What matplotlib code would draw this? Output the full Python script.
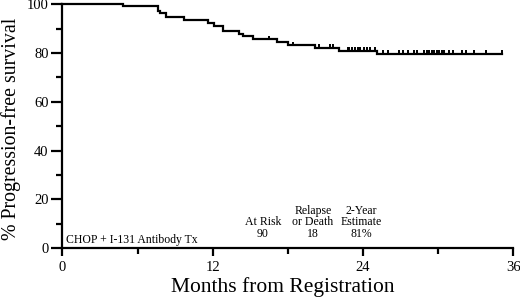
import numpy as np
import matplotlib
matplotlib.use("Agg")
import matplotlib.pyplot as plt

plt.rcParams['font.family'] = ['Liberation Serif', 'DejaVu Serif']

# step times (months) and survival level after each step (%)
step_months = [0, 4.8, 7.6, 7.8, 8.3, 9.7, 11.6, 12.1, 12.8, 14.1, 14.4,
               15.2, 17.1, 18.0, 20.2, 22.1, 25.1, 35.1]
step_pct = [100, 99.1, 97.3, 96.3, 94.7, 93.4, 92.3, 91.2, 89.0, 87.9, 86.8,
            85.6, 84.4, 83.2, 82.1, 81.0, 79.7, 79.7]
# censored observations (months)
censor_months = [16.5, 18.4, 20.5, 21.4, 21.6, 22.8, 22.9, 23.1, 23.4, 23.6,
                 23.8, 24.1, 24.3, 24.6, 25.0, 25.6, 26.0, 26.9, 27.2, 27.6,
                 28.1, 28.3, 28.9, 29.1, 29.3, 29.5, 29.7, 29.9, 30.1, 30.3,
                 30.5, 30.9, 31.2, 31.9, 32.2, 32.9, 33.8, 35.1]

xticks = [0, 12, 24, 36]
yticks = [0, 20, 40, 60, 80, 100]

fig = plt.figure(figsize=(5.2, 3.0), dpi=100)
ax = fig.add_axes([0.12, 0.173, 0.867, 0.813])

ax.step(step_months, step_pct, where='post', color='black', lw=1.6,
        clip_on=False, solid_joinstyle='miter')

# censor marks sit on the curve and point up
t = np.asarray(step_months)
p = np.asarray(step_pct)
idx = np.searchsorted(t, censor_months, side='right') - 1
lvl = p[idx]
ax.vlines(censor_months, lvl, lvl + 1.5, color='black', lw=1.4)

ax.set_xlim(0, 36)
ax.set_ylim(0, 100)
ax.set_xticks(xticks)
ax.set_yticks(yticks)
ax.set_xticks([6, 18, 30], minor=True)
ax.set_yticks([10, 30, 50, 70, 90], minor=True)
ax.tick_params(axis='both', which='major', direction='out', width=1.6,
               labelsize=10.5, color='black')
ax.tick_params(axis='x', which='major', length=6, pad=3)
ax.tick_params(axis='y', which='major', length=8, pad=2)
ax.tick_params(axis='both', which='minor', direction='out', width=1.6, length=4)

for s in ['top', 'right']:
    ax.spines[s].set_visible(False)
for s in ['left', 'bottom']:
    ax.spines[s].set_linewidth(1.6)

ax.set_xlabel('Months from Registration', fontsize=15.5)
ax.xaxis.set_label_coords(0.488, -0.12)
ax.set_ylabel('% Progression-free survival', fontsize=14.3)
ax.yaxis.set_label_coords(-0.092, 0.49)

fs = 8.5
ax.text(0.3, 3.3, 'CHOP + I-131 Antibody Tx', fontsize=fs, va='center', ha='left')
ax.text(16.0, 10.5, 'At Risk', fontsize=fs, ha='center', va='center')
ax.text(16.0, 5.6, '90', fontsize=fs, ha='center', va='center')
ax.text(20.0, 15.3, 'Relapse', fontsize=fs, ha='center', va='center')
ax.text(20.0, 10.5, 'or Death', fontsize=fs, ha='center', va='center')
ax.text(20.0, 5.6, '18', fontsize=fs, ha='center', va='center')
ax.text(23.9, 15.3, '2-Year', fontsize=fs, ha='center', va='center')
ax.text(23.9, 10.5, 'Estimate', fontsize=fs, ha='center', va='center')
ax.text(23.9, 5.6, '81%', fontsize=fs, ha='center', va='center')

fig.savefig('out.png', dpi=100)
